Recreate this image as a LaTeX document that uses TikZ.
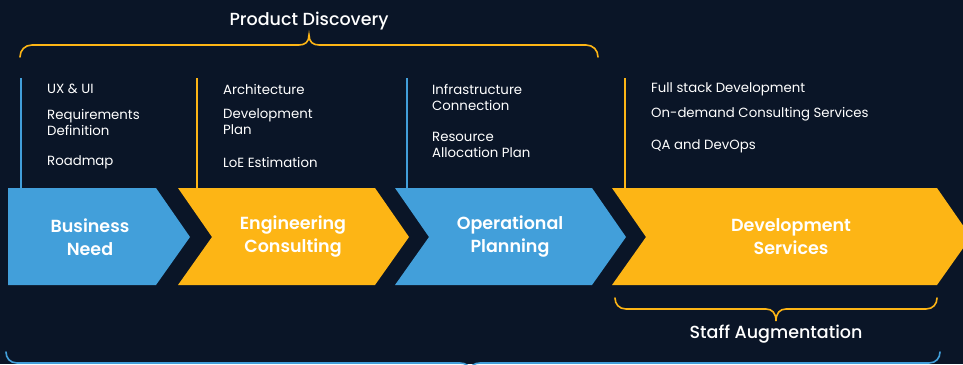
\documentclass[tikz,border=0pt]{standalone}
\usepackage{fontspec}
\setmainfont{Poppins}[BoldFont=Poppins SemiBold]
\newfontfamily\pmed{Poppins Medium}
\definecolor{bg}{HTML}{0A1527}
\definecolor{cblue}{HTML}{429FDA}
\definecolor{cyel}{HTML}{FDB515}
\begin{document}
\begin{tikzpicture}[x=1pt,y=-1pt,
  item/.style={anchor=west,text=white,font=\fontsize{13.3}{16}\selectfont,align=left,inner sep=0pt},
  label/.style={text=white,font=\fontsize{17.5}{23}\selectfont\bfseries,align=center,inner sep=0pt},
  title/.style={text=white,font=\pmed\fontsize{17.5}{20}\selectfont,inner sep=0pt},
  vline/.style={line width=1.3pt},
  brace/.style={line width=1.6pt,line cap=round}]
\fill[bg] (0,0) rectangle (963,364);
\useasboundingbox (0,0) rectangle (963,364);
% chevrons
\fill[cblue] (8,188) -- (156,188) -- (190,237) -- (156,285) -- (8,285) -- cycle;
\fill[cyel] (178,188) -- (375,188) -- (409,237) -- (375,285) -- (178,285) -- (212,237) -- cycle;
\fill[cblue] (395,188) -- (592,188) -- (626,237) -- (592,285) -- (395,285) -- (429,237) -- cycle;
\fill[cyel] (612,188) -- (937,188) -- (971,237) -- (937,285) -- (612,285) -- (646,237) -- cycle;
% vertical lines
\coordinate (l1t) at (21,78); \coordinate (l1b) at (21,188);
\coordinate (l2t) at (197,78); \coordinate (l2b) at (197,188);
\coordinate (l3t) at (407,78); \coordinate (l3b) at (407,188);
\coordinate (l4t) at (625,78); \coordinate (l4b) at (625,188);
\draw[vline,cblue] (l1t) -- (l1b);
\draw[vline,cyel] (l2t) -- (l2b);
\draw[vline,cblue] (l3t) -- (l3b);
\draw[vline,cyel] (l4t) -- (l4b);
% labels
\node[label] (bn) at (90,237) {Business\\Need};
\node[label] (ec) at (293,237) {Engineering\\Consulting};
\node[label] (op) at (510,237) {Operational\\Planning};
\node[label] (ds) at (791,237) {Development\\Services};
% items
\node[item] (a1) at (47,89) {UX \& UI};
\node[item] (a2) at (47,122) {Requirements\\Definition};
\node[item] (a3) at (47,162) {Roadmap};
\node[item] (b1) at (223,89) {Architecture};
\node[item] (b2) at (223,122) {Development\\Plan};
\node[item] (b3) at (223,162) {LoE Estimation};
\node[item] (c1) at (432,97) {Infrastructure\\Connection};
\node[item] (c2) at (432,145) {Resource\\Allocation Plan};
\node[item] (d1) at (651,89) {Full stack Development};
\node[item] (d2) at (651,114) {On-demand Consulting Services};
\node[item] (d3) at (651,146) {QA and DevOps};
% top brace
\draw[brace,cyel] (20,57) .. controls (20,50) and (25,45) .. (32,45) -- (299,45)
  .. controls (305,45) and (309,42) .. (309,35)
  .. controls (309,42) and (313,45) .. (319,45) -- (586,45)
  .. controls (593,45) and (598,50) .. (598,57);
\node[title] (pd) at (309,21) {Product Discovery};
% staff augmentation brace
\draw[brace,cyel] (615,298) .. controls (615,304) and (619,309) .. (626,309) -- (766,309)
  .. controls (772,309) and (776,313) .. (776,321)
  .. controls (776,313) and (780,309) .. (786,309) -- (926,309)
  .. controls (933,309) and (937,304) .. (937,298);
\node[title] (sa) at (776,334) {Staff Augmentation};
% bottom brace
\draw[brace,cblue] (6,352) .. controls (6,358) and (10,363) .. (17,363) -- (460,363)
  .. controls (466,363) and (470,366) .. (470,372)
  .. controls (470,366) and (474,363) .. (480,363) -- (929,363)
  .. controls (936,363) and (940,358) .. (940,352);
\end{tikzpicture}
\end{document}
